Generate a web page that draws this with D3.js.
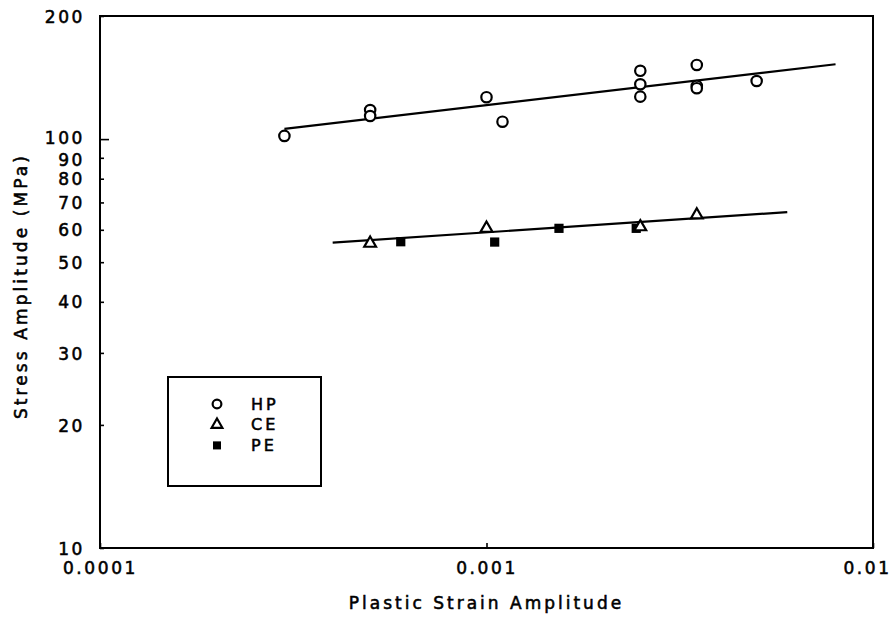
<!DOCTYPE html>
<html><head><meta charset="utf-8">
<script src="https://cdn.jsdelivr.net/npm/d3@7/dist/d3.min.js"></script>
<style>
body{margin:0;background:#fff;}
text{font-family:"DejaVu Sans",sans-serif;fill:#000;stroke:#000;stroke-width:0.55px;}
</style></head>
<body><svg id="c" width="896" height="617"></svg>
<script>
const hpStrain = [0.0003, 0.0005, 0.0005, 0.001, 0.0011, 0.0025, 0.0025, 0.0025, 0.0035, 0.0035, 0.0035, 0.005];
const hpStress = [101.8, 117.8, 113.9, 126.6, 110.3, 146.9, 136.2, 127.0, 151.8, 134.9, 133.2, 138.7];
const ceStrain = [0.0005, 0.001, 0.0025, 0.0035];
const ceStress = [55.6, 60.5, 61.0, 65.2];
const peStrain = [0.0006, 0.00105, 0.00154, 0.00244];
const peStress = [56.1, 56.0, 60.5, 60.5];
const hpFitStrain = [0.0003, 0.008];
const hpFitStress = [105.9, 152.4];
const lowFitStrain = [0.0004, 0.006];
const lowFitStress = [55.8, 66.3];
const xTickValues = [0.0001, 0.001, 0.01];
const xTickLabels = ["0.0001", "0.001", "0.01"];
const yTickValues = [10, 20, 30, 40, 50, 60, 70, 80, 90, 100, 200];
const yTickLabels = ["10", "20", "30", "40", "50", "60", "70", "80", "90", "100", "200"];
const legendNames = ["HP", "CE", "PE"];

const svg = d3.select("#c");
const L = 100, R = 873, T = 16, B = 548;
const x = d3.scaleLog().domain([0.0001, 0.01]).range([L, R]);
const y = d3.scaleLog().domain([10, 200]).range([B, T]);

// axes
const yAxis = d3.axisLeft(y).tickValues(yTickValues)
  .tickFormat((d, i) => yTickLabels[i]).tickSize(-4).tickPadding(15);
const gy = svg.append("g").attr("transform", `translate(${L},0)`).call(yAxis);
gy.select(".domain").remove();
gy.selectAll(".tick line").attr("stroke", "#000").attr("stroke-width", 1.6)
  .attr("x2", d => d === 100 ? 9 : 4);
gy.selectAll(".tick text").style("font-size", "17px").style("letter-spacing", "2.6px")
  .attr("dy", d => d === 100 ? "0.28em" : (d === 90 ? "0.44em" : "0.36em"));

const xAxis = d3.axisBottom(x).tickValues(xTickValues)
  .tickFormat((d, i) => xTickLabels[i]).tickSize(-5).tickPadding(14);
const gx = svg.append("g").attr("transform", `translate(0,${B})`).call(xAxis);
gx.select(".domain").remove();
gx.selectAll(".tick line").attr("stroke", "#000").attr("stroke-width", 1.6);
gx.selectAll(".tick text").style("font-size", "17px").style("letter-spacing", "2.6px")
  .attr("dx", d => d === 0.01 ? -6 : 0);

// frame
svg.append("rect").attr("x", L).attr("y", T).attr("width", R - L).attr("height", B - T)
  .attr("fill", "none").attr("stroke", "#000").attr("stroke-width", 2);

// axis titles
svg.append("text").attr("x", (L + R) / 2).attr("y", 609).attr("text-anchor", "middle")
  .style("font-size", "17px").style("letter-spacing", "3px").text("Plastic Strain Amplitude");
svg.append("text").attr("transform", "translate(27,286) rotate(-90)").attr("text-anchor", "middle")
  .style("font-size", "17px").style("letter-spacing", "3.1px").text("Stress Amplitude (MPa)");

// fit lines
const line = d3.line().x(d => x(d[0])).y(d => y(d[1]));
svg.append("path").datum(d3.zip(hpFitStrain, hpFitStress)).attr("d", line)
  .attr("fill", "none").attr("stroke", "#000").attr("stroke-width", 2.2);
svg.append("path").datum(d3.zip(lowFitStrain, lowFitStress)).attr("d", line)
  .attr("fill", "none").attr("stroke", "#000").attr("stroke-width", 2.2);

// markers
const circ = d3.symbol().type(d3.symbolCircle).size(85);
const tri = d3.symbol().type(d3.symbolTriangle).size(60);
const sq = d3.symbol().type(d3.symbolSquare).size(85);

svg.append("g").selectAll("path").data(d3.zip(hpStrain, hpStress)).join("path")
  .attr("transform", d => `translate(${x(d[0])},${y(d[1])})`).attr("d", circ)
  .attr("fill", "#fff").attr("stroke", "#000").attr("stroke-width", 2.2);
svg.append("g").selectAll("path").data(d3.zip(peStrain, peStress)).join("path")
  .attr("transform", d => `translate(${x(d[0])},${y(d[1])})`).attr("d", sq)
  .attr("fill", "#000");
svg.append("g").selectAll("path").data(d3.zip(ceStrain, ceStress)).join("path")
  .attr("transform", d => `translate(${x(d[0])},${y(d[1])})`).attr("d", tri)
  .attr("fill", "#fff").attr("stroke", "#000").attr("stroke-width", 2.2);

// legend
const lg = svg.append("g");
lg.append("rect").attr("x", 168).attr("y", 377).attr("width", 153).attr("height", 109)
  .attr("fill", "#fff").attr("stroke", "#000").attr("stroke-width", 2);
const syms = [
  {s: d3.symbol().type(d3.symbolCircle).size(60), fill: "#fff", stroke: "#000"},
  {s: d3.symbol().type(d3.symbolTriangle).size(50), fill: "#fff", stroke: "#000"},
  {s: d3.symbol().type(d3.symbolSquare).size(65), fill: "#000", stroke: "none"}
];
legendNames.forEach((n, i) => {
  const cy = 404 + i * 20.7;
  lg.append("path").attr("transform", `translate(217,${cy})`).attr("d", syms[i].s())
    .attr("fill", syms[i].fill).attr("stroke", syms[i].stroke).attr("stroke-width", 2.2);
  lg.append("text").attr("x", 251).attr("y", cy).attr("dy", "0.36em")
    .style("font-size", "16px").style("letter-spacing", "3px").text(n);
});
</script></body></html>
